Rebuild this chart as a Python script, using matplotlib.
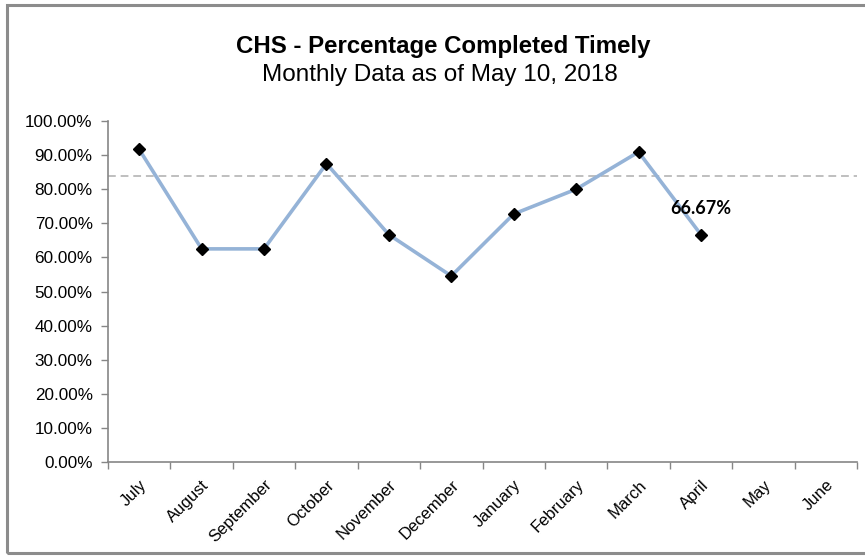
import matplotlib
matplotlib.use('Agg')
import matplotlib.pyplot as plt
from matplotlib.patches import Rectangle
from matplotlib.ticker import FixedLocator, FuncFormatter

months = ['July', 'August', 'September', 'October', 'November', 'December',
          'January', 'February', 'March', 'April', 'May', 'June']
pct = [91.67, 62.5, 62.5, 87.5, 66.67, 54.55, 72.73, 80.0, 90.91, 66.67]
target = 84.0
last_label = '66.67%'

plt.rcParams['font.family'] = ['Liberation Sans', 'DejaVu Sans']

fig = plt.figure(figsize=(8.65, 5.57), dpi=100)
# grey frame round the chart area
fig.patches.append(Rectangle((7 / 865, 4 / 557), 1.0, 548 / 557, transform=fig.transFigure,
                             fill=False, edgecolor='#8c8c8c', linewidth=2.2))

ax = fig.add_axes([108 / 865, 95 / 557, 749 / 865, 341 / 557])
x = range(len(pct))
ax.plot(x, pct, color='#95b3d7', linewidth=2.6, marker='D', markersize=6.5,
        markerfacecolor='black', markeredgecolor='black', zorder=3)
ax.axhline(target, color='#bfbfbf', linestyle=(0, (4, 2.5)), linewidth=1.4, zorder=2)
ax.annotate(last_label, (len(pct) - 1, pct[-1]), xytext=(0, 19), textcoords='offset points',
            ha='center', va='center', fontsize=13, fontweight='bold',
            family=['Lato', 'DejaVu Sans'])

ax.set_xlim(-0.5, len(months) - 0.5)
ax.set_ylim(0, 100)
ax.set_yticks(range(0, 101, 10))
ax.yaxis.set_major_formatter(FuncFormatter(lambda v, p: f'{v:.2f}%'))
ax.xaxis.set_major_locator(FixedLocator([i - 0.5 for i in range(len(months) + 1)]))
ax.xaxis.set_major_formatter(FuncFormatter(lambda v, p: ''))
ax.set_xticks(range(len(months)), minor=True)
ax.set_xticklabels(months, minor=True, rotation=45, ha='right', rotation_mode='anchor',
                   fontsize=12)
ax.tick_params(axis='x', which='minor', length=0, pad=11)
ax.tick_params(axis='x', which='major', length=5, color='#868686', width=1)
ax.tick_params(axis='y', length=5, color='#868686', width=1, labelsize=12.3, pad=6)

for s in ['top', 'right']:
    ax.spines[s].set_visible(False)
for s in ['left', 'bottom']:
    ax.spines[s].set_color('#868686')
    ax.spines[s].set_linewidth(1.2)

fig.text(443 / 865, 1 - 46 / 557, 'CHS - Percentage Completed Timely', ha='center', va='center',
         fontsize=17.3, fontweight='bold')
fig.text(440 / 865, 1 - 75 / 557, 'Monthly Data as of May 10, 2018', ha='center', va='center',
         fontsize=17.5)

fig.savefig('out.png', dpi=100)
